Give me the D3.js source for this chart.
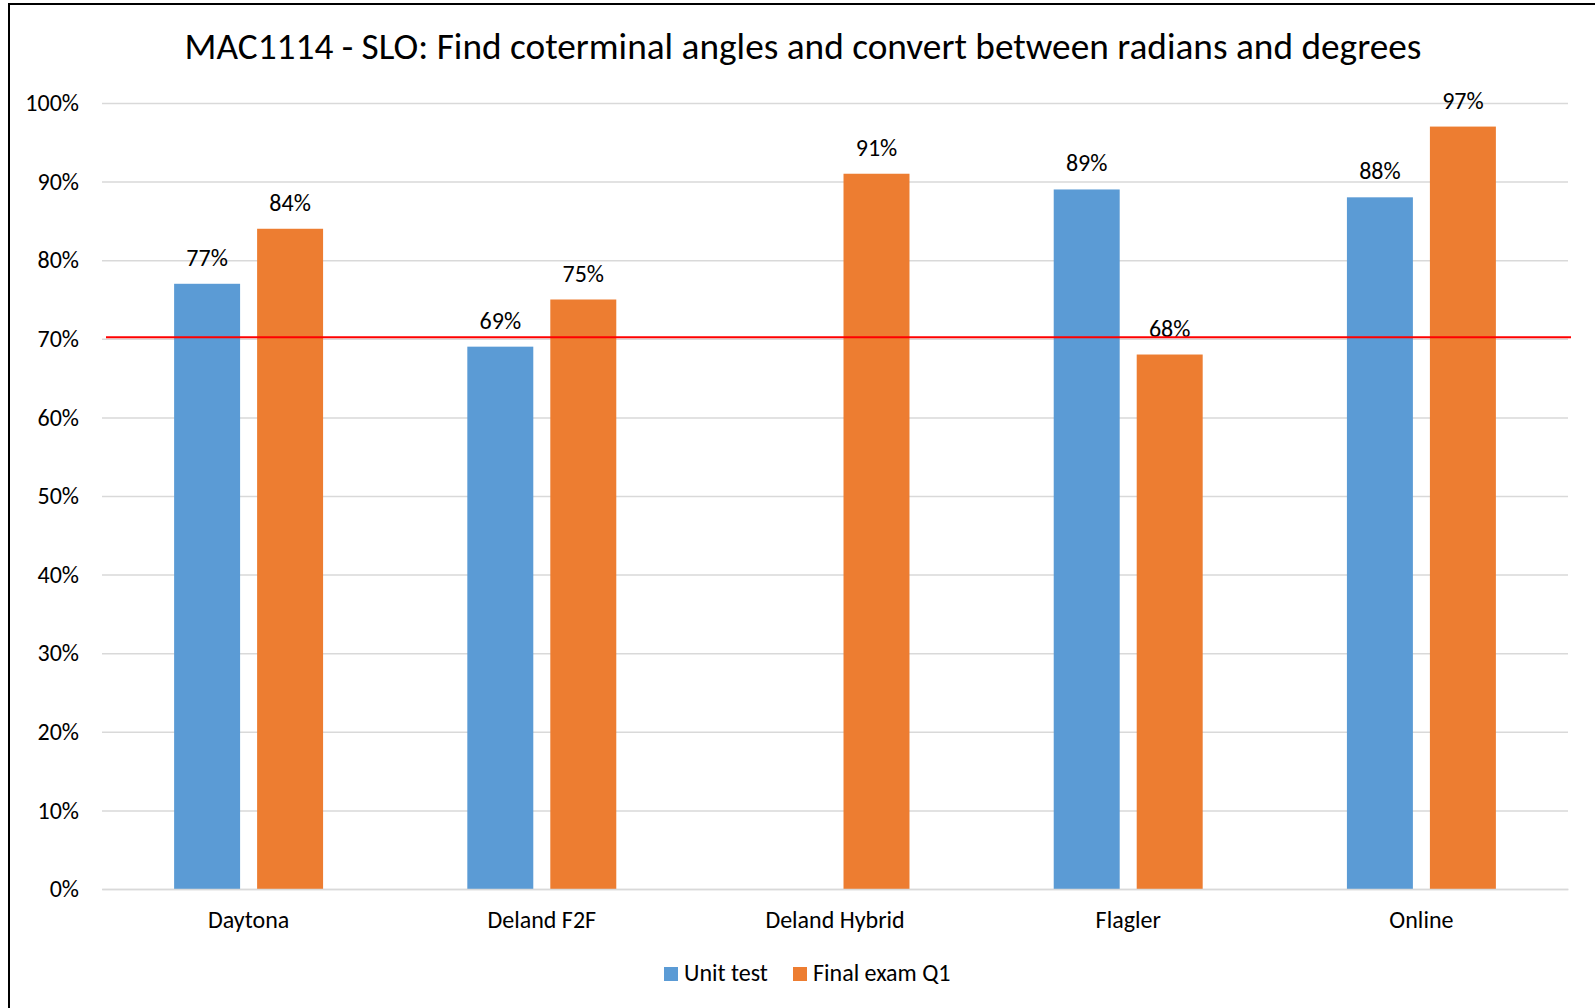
<!DOCTYPE html>
<html>
<head>
<meta charset="utf-8">
<script src="https://cdn.jsdelivr.net/npm/d3@7"></script>
<style>
  html, body { margin: 0; padding: 0; background: #fff; }
  svg { display: block; }
  text { font-family: Carlito, Calibri, "Open Sans", sans-serif; fill: #000; }
</style>
</head>
<body>
<svg id="chart" width="1595" height="1008"></svg>
<script>
// ---- data ----
const title = "MAC1114 - SLO: Find coterminal angles and convert between radians and degrees";
const categories = ["Daytona", "Deland F2F", "Deland Hybrid", "Flagler", "Online"];
const seriesNames = ["Unit test", "Final exam Q1"];
const unitTest = [0.77, 0.69, null, 0.89, 0.88];
const finalExamQ1 = [0.84, 0.75, 0.91, 0.68, 0.97];
const yTicks = [0, 0.1, 0.2, 0.3, 0.4, 0.5, 0.6, 0.7, 0.8, 0.9, 1.0];
const threshold = 0.70;
const colors = ["#5B9BD5", "#ED7D31"];

const seriesValues = [unitTest, finalExamQ1];

// ---- layout ----
const W = 1595, H = 1008;
const plot = { left: 102, right: 1568, top: 103, bottom: 889 };
const FONT = 'Carlito, Calibri, "Open Sans", sans-serif';

const svg = d3.select("#chart");

// outer frame (left and top edges visible)
svg.append("rect")
  .attr("x", 9).attr("y", 4)
  .attr("width", W + 20).attr("height", H + 20)
  .attr("fill", "none").attr("stroke", "#000").attr("stroke-width", 2);

const x0 = d3.scaleBand().domain(categories).range([plot.left, plot.right]).paddingInner(0).paddingOuter(0);
const x1 = d3.scaleBand().domain(seriesNames).range([0, x0.bandwidth()]).paddingInner(0.205).paddingOuter(0.869);
const y = d3.scaleLinear().domain([0, 1]).range([plot.bottom, plot.top]);

// gridlines + y labels
const yAxis = d3.axisLeft(y).tickValues(yTicks).tickFormat(d3.format(".0%"))
  .tickSize(-(plot.right - plot.left)).tickPadding(23);
const gy = svg.append("g").attr("transform", `translate(${plot.left},0)`).call(yAxis);
gy.select(".domain").remove();
gy.selectAll(".tick line").attr("stroke", "#D9D9D9").attr("stroke-width", 1.5);
gy.selectAll(".tick text").attr("font-size", 24).attr("fill", "#000").attr("font-family", FONT);

// bars
const groups = svg.append("g").selectAll("g")
  .data(categories).join("g")
  .attr("transform", d => `translate(${x0(d)},0)`);

const barData = (c, i) => seriesNames.map((s, k) => ({ s, k, v: seriesValues[k][i] })).filter(d => d.v != null);

groups.selectAll("rect")
  .data((c, i) => barData(c, i)).join("rect")
  .attr("x", d => x1(d.s))
  .attr("width", x1.bandwidth())
  .attr("y", d => y(d.v))
  .attr("height", d => y(0) - y(d.v))
  .attr("fill", d => colors[d.k]);

// red threshold line
svg.append("line")
  .attr("x1", plot.left + 4).attr("x2", plot.right + 3)
  .attr("y1", y(threshold) - 1.5).attr("y2", y(threshold) - 1.5)
  .attr("stroke", "#FF0000").attr("stroke-width", 2);

// value labels
groups.selectAll("text.val")
  .data((c, i) => barData(c, i)).join("text")
  .attr("class", "val")
  .attr("x", d => x1(d.s) + x1.bandwidth() / 2)
  .attr("y", d => y(d.v) - 18)
  .attr("text-anchor", "middle")
  .attr("font-size", 24)
  .text(d => d3.format(".0%")(d.v));

// x axis
const xAxis = d3.axisBottom(x0).tickSize(0).tickPadding(22);
const gx = svg.append("g").attr("transform", `translate(0,${plot.bottom})`).call(xAxis);
gx.select(".domain").attr("stroke", "#D9D9D9").attr("stroke-width", 1.5);
gx.selectAll(".tick text").attr("font-size", 24).attr("fill", "#000").attr("font-family", FONT);

// title
svg.append("text")
  .attr("x", 803).attr("y", 59)
  .attr("text-anchor", "middle")
  .attr("font-size", 37.3)
  .text(title);

// legend
const legend = svg.append("g");
const legendX = [664, 793];
seriesNames.forEach((s, k) => {
  legend.append("rect").attr("x", legendX[k]).attr("y", 967).attr("width", 14).attr("height", 14).attr("fill", colors[k]);
  legend.append("text").attr("x", legendX[k] + 20).attr("y", 981).attr("font-size", 24).text(s);
});
</script>
</body>
</html>
